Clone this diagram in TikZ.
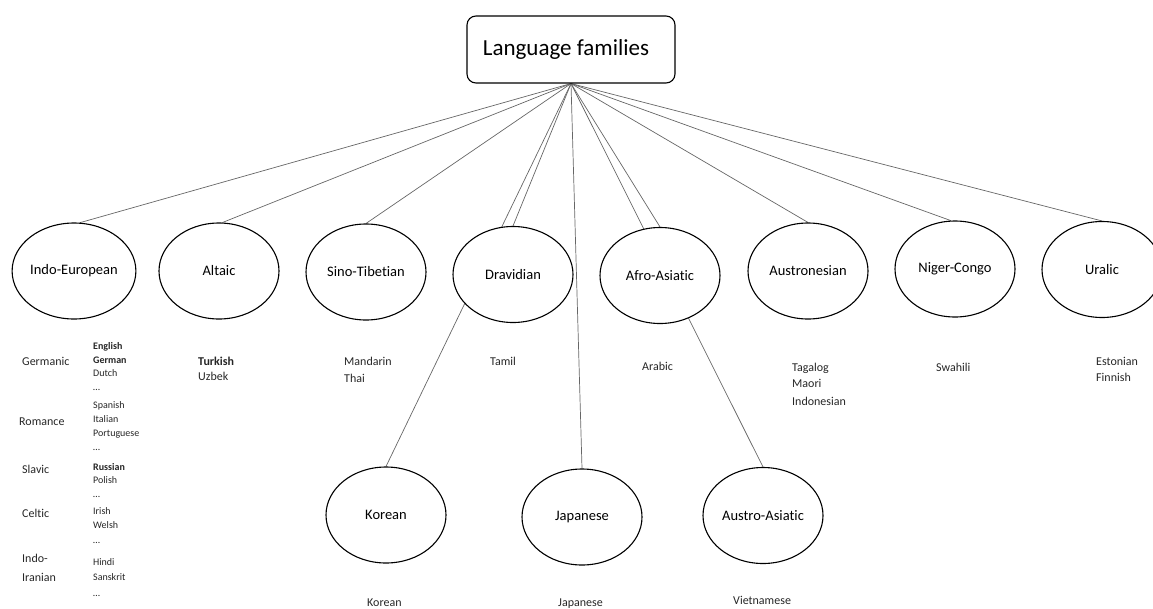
\documentclass[tikz,border=0pt]{standalone}
\usepackage{fontspec}
\setmainfont{Carlito}[Ligatures=NoCommon]
\usetikzlibrary{shapes.geometric,backgrounds}

\begin{document}
\begin{tikzpicture}[x=1pt,y=-1pt,
  family/.style={ellipse, draw=black, line width=1.1pt, fill=white,
    minimum width=120pt, minimum height=96pt, inner sep=0pt,
    font=\fontsize{14.5}{17}\selectfont},
  link/.style={draw=black!60, line width=0.7pt},
  lbl/.style={anchor=west, inner sep=0pt, text height=.66em, text depth=0pt,
    text=black!85, font=\fontsize{12}{14}\selectfont},
  lst/.style={lbl, font=\fontsize{10}{12}\selectfont}]
\useasboundingbox (0,0) rectangle (1153,608);

% root
\node[draw=black, rounded corners=9pt, line width=1.1pt, minimum width=208pt,
  minimum height=67pt, inner sep=0pt, font=\fontsize{23}{27}\selectfont]
  (root) at (571,49.5) {\hspace*{-10pt}Language families};
\coordinate (apex) at (root.south);

% families
\node[family] (ie) at (74,271)    {Indo-European};
\node[family] (alt) at (219,271)  {Altaic};
\node[family] (st) at (366,272)   {Sino-Tibetian};
\node[family] (dr) at (513,274.5) {Dravidian};
\node[family] (aa) at (660,275.5) {Afro-Asiatic};
\node[family] (an) at (808,271)   {Austronesian};
\node[family] (nc) at (955,269)   {Niger-Congo};
\node[family] (ur) at (1102,269.5){Uralic};
\node[family] (ko) at (386,515)   {Korean};
\node[family] (ja) at (582,517)   {Japanese};
\node[family] (as) at (763,515.5) {Austro-Asiatic};

% connectors, behind the ellipses
\begin{scope}[on background layer]
  \draw[link] (apex) -- (ie.83);
  \draw[link] (apex) -- (alt.86);
  \draw[link] (apex) -- (st.north);
  \draw[link] (apex) -- (dr.north);
  \draw[link] (apex) -- (ko.north);
  \draw[link] (apex) -- (ja.north);
  \draw[link] (apex) -- (aa.north);
  \draw[link] (apex) -- (as.north);
  \draw[link] (apex) -- (an.north);
  \draw[link] (apex) -- (nc.95);
  \draw[link] (apex) -- (ur.north);
\end{scope}

% Indo-European branches
\node[lbl] (germ) at (22,362) {Germanic};
\node[lbl] (rom) at (19,422) {Romance};
\node[lbl] (slav) at (22,470) {Slavic};
\node[lbl] (celt) at (22,514) {Celtic};
\node[lbl] (ii1) at (22,559) {Indo-};
\node[lbl] (ii2) at (22,578) {Iranian};

\foreach \t [count=\i] in {{\textbf{English}},{\textbf{German}},Dutch,\ldots}
  \node[lst] (germ-\i) at (93,{346+13.7*(\i-1)}) {\t};
\foreach \t [count=\i] in {Spanish,Italian,Portuguese,\ldots}
  \node[lst] (rom-\i) at (93,{405+14*(\i-1)}) {\t};
\foreach \t [count=\i] in {{\textbf{Russian}},Polish,\ldots}
  \node[lst] (slav-\i) at (93,{467+13.5*(\i-1)}) {\t};
\foreach \t [count=\i] in {Irish,Welsh,\ldots}
  \node[lst] (celt-\i) at (93,{511+14.5*(\i-1)}) {\t};
\foreach \t [count=\i] in {Hindi,Sanskrit,\ldots}
  \node[lst] (ii-\i) at (93,{562+15.5*(\i-1)}) {\t};

% languages of the other families
\node[lbl] (tur) at (198,362) {\textbf{Turkish}};
\node[lbl] (uzb) at (198,377) {Uzbek};
\node[lbl] (man) at (344,362) {Mandarin};
\node[lbl] (tha) at (344,379) {Thai};
\node[lbl] (tam) at (490,362) {Tamil};
\node[lbl] (ara) at (642,367) {Arabic};
\node[lbl] (tag) at (792,368) {Tagalog};
\node[lbl] (mao) at (792,384) {Maori};
\node[lbl] (ind) at (792,402) {Indonesian};
\node[lbl] (swa) at (936,368) {Swahili};
\node[lbl] (est) at (1096,362) {Estonian};
\node[lbl] (fin) at (1096,378) {Finnish};
\node[lbl] (kor) at (367,603) {Korean};
\node[lbl] (jap) at (558,603) {Japanese};
\node[lbl] (vie) at (733,601) {Vietnamese};
\end{tikzpicture}
\end{document}
